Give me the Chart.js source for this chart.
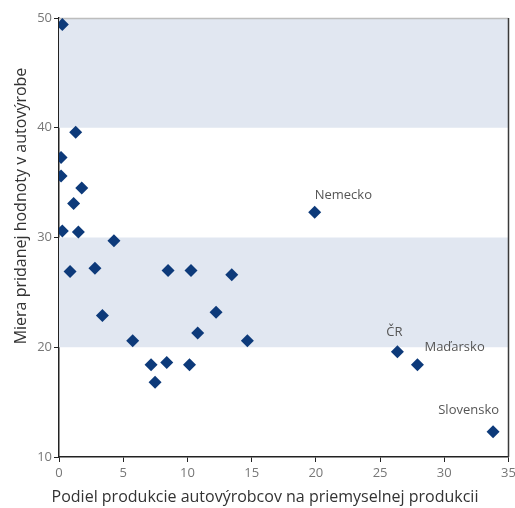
<!DOCTYPE html>
<html>
<head>
<meta charset="utf-8">
<script src="https://cdn.jsdelivr.net/npm/chart.js@4"></script>
<style>
html,body{margin:0;padding:0;background:#fff;}
#wrap{width:515px;height:508px;}
</style>
</head>
<body>
<div id="wrap"><canvas id="c" width="515" height="508"></canvas></div>
<script>
// Data
const shareValues = [0.26, 1.30, 0.16, 0.16, 1.77, 1.14, 0.26, 1.51, 4.28, 0.86, 2.80, 3.38, 5.74, 7.17, 7.48, 8.39, 8.49, 10.28, 10.16, 10.80, 12.23, 13.45, 14.67, 19.91, 26.35, 27.91, 33.8];
const valueAddedRates = [49.4, 39.6, 37.3, 35.6, 34.5, 33.1, 30.6, 30.5, 29.7, 26.9, 27.2, 22.9, 20.6, 18.4, 16.8, 18.6, 27.0, 27.0, 18.4, 21.3, 23.2, 26.6, 20.6, 32.3, 19.6, 18.4, 12.3];
const pointNames = ["", "", "", "", "", "", "", "", "", "", "", "", "", "", "", "", "", "", "", "", "", "", "", "Nemecko", "ČR", "Maďarsko", "Slovensko"];
const xTicks = [0, 5, 10, 15, 20, 25, 30, 35];
const yTicks = [10, 20, 30, 40, 50];
const bands = [[20, 30], [40, 50]];
const xTitle = "Podiel produkcie autovýrobcov na priemyselnej produkcii";
const yTitle = "Miera pridanej hodnoty v autovýrobe";

// Label placement (style, not data)
const labelPlacement = {
  "Nemecko": {dx: 0, dy: -17, align: "left"},
  "ČR": {dx: -3, dy: -19, align: "center"},
  "Maďarsko": {dx: 7, dy: -18, align: "left"},
  "Slovensko": {dx: 6, dy: -21, align: "right"}
};

const points = shareValues.map((x, i) => ({x: x, y: valueAddedRates[i]}));
const FONT = "'Open Sans', sans-serif";

const bandPlugin = {
  id: 'bands',
  beforeDatasetsDraw(chart) {
    const {ctx, chartArea: a, scales: {y}} = chart;
    ctx.save();
    ctx.fillStyle = '#e1e7f1';
    bands.forEach(([lo, hi]) => {
      const top = y.getPixelForValue(hi), bot = y.getPixelForValue(lo);
      ctx.fillRect(a.left, top, a.right - a.left, bot - top);
    });
    ctx.strokeStyle = '#bdbdbd';
    ctx.lineWidth = 1.5;
    ctx.beginPath();
    ctx.moveTo(a.left, a.top + 0.5);
    ctx.lineTo(a.right, a.top + 0.5);
    ctx.stroke();
    ctx.strokeStyle = '#3a3a3a';
    ctx.lineWidth = 1.5;
    ctx.beginPath();
    ctx.moveTo(a.right, a.top);
    ctx.lineTo(a.right, a.bottom);
    ctx.stroke();
    ctx.restore();
  }
};

const labelPlugin = {
  id: 'pointLabels',
  afterDatasetsDraw(chart) {
    const {ctx, chartArea: a, scales: {x, y}} = chart;
    ctx.save();
    ctx.font = "13px " + FONT;
    ctx.fillStyle = '#555';
    ctx.textBaseline = 'middle';
    pointNames.forEach((name, i) => {
      if (!name) return;
      const p = labelPlacement[name] || {dx: 0, dy: -16, align: 'center'};
      ctx.textAlign = p.align;
      ctx.fillText(name, x.getPixelForValue(shareValues[i]) + p.dx, y.getPixelForValue(valueAddedRates[i]) + p.dy);
    });
    // axis titles
    ctx.font = "16px " + FONT;
    ctx.fillStyle = '#333';
    ctx.textAlign = 'center';
    ctx.textBaseline = 'middle';
    ctx.fillText(xTitle, 265, 497);
    ctx.translate(21, 206);
    ctx.rotate(-Math.PI / 2);
    ctx.fillText(yTitle, 0, 0);
    ctx.restore();
  }
};

new Chart(document.getElementById('c'), {
  type: 'scatter',
  data: {
    datasets: [{
      data: points,
      pointStyle: 'rectRot',
      pointRadius: 6.5,
      pointHoverRadius: 6.5,
      backgroundColor: '#0d3a7a',
      borderColor: '#0d3a7a',
      borderWidth: 0
    }]
  },
  options: {
    responsive: false,
    animation: false,
    events: [],
    layout: {padding: {top: 18, right: 6, left: 0, bottom: 0}},
    plugins: {legend: {display: false}, tooltip: {enabled: false}},
    scales: {
      x: {
        type: 'linear',
        min: 0, max: 35,
        afterBuildTicks(s) { s.ticks = xTicks.map(v => ({value: v})); },
        afterFit(s) { s.height = 51; s.paddingLeft = 0; s.paddingRight = 0; },
        grid: {drawOnChartArea: false, drawTicks: true, tickLength: 5, color: '#222'},
        border: {color: '#222', width: 1.5},
        ticks: {color: '#777', font: {family: FONT, size: 13}, padding: 3},
        title: {display: false}
      },
      y: {
        type: 'linear',
        min: 10, max: 50,
        afterBuildTicks(s) { s.ticks = yTicks.map(v => ({value: v})); },
        afterFit(s) { s.width = 59; s.paddingTop = 0; s.paddingBottom = 0; },
        grid: {drawOnChartArea: false, drawTicks: true, tickLength: 5, color: '#222'},
        border: {color: '#222', width: 1.5},
        ticks: {color: '#777', font: {family: FONT, size: 13}, padding: 2},
        title: {display: false}
      }
    }
  },
  plugins: [bandPlugin, labelPlugin]
});
</script>
</body>
</html>
